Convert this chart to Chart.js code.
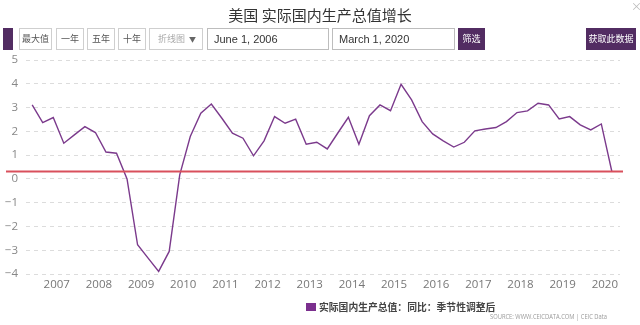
<!DOCTYPE html>
<html>
<head>
<meta charset="utf-8">
<script src="https://cdn.jsdelivr.net/npm/chart.js@4.4.1/dist/chart.umd.min.js"></script>
<style>
  html, body { margin:0; padding:0; background:#fff; }
  body { width:640px; height:325px; position:relative; overflow:hidden; font-family:"Noto Sans CJK SC","Noto Sans",sans-serif; }
  #wrap { position:absolute; left:0; top:0; width:640px; height:325px; }
  .abs { position:absolute; box-sizing:border-box; }
  .btn { border:1px solid #cfcfcf; background:#fff; color:#555; font-size:9px; text-align:center; line-height:20px; top:28px; height:22px; }
  .pbtn { background:#522c62; color:#fff; border:none; font-size:9px; text-align:center; line-height:22px; top:28px; height:22px; }
  .inp { border:1px solid #bdbdbd; color:#333; font-family:"Liberation Sans",Arial,sans-serif; font-size:11px; line-height:20px; padding-left:6px; top:28px; height:22px; }
  #title { left:0; width:640px; top:4px; text-align:center; font-size:15px; color:#333; }
  #legend { left:306px; top:300px; font-size:9.8px; color:#444; font-weight:bold; white-space:nowrap; }
  #legend span.sw { display:inline-block; width:10px; height:8px; background:#7b2f8e; margin-right:3px; }
  #source { left:490px; top:312px; font-size:6.5px; color:#9a9a9a; font-family:"Open Sans",sans-serif; white-space:nowrap; transform-origin:0 0; transform:scaleX(0.89); }
</style>
</head>
<body>
<div id="wrap"><canvas id="c" width="640" height="325"></canvas></div>
<div class="abs" id="title">美国 实际国内生产总值增长</div>
<div class="abs" style="left:631px;top:-2px;font-size:11px;color:#bbb;">×</div>
<div class="abs pbtn" style="left:3px;width:10px;"></div>
<div class="abs btn" style="left:19px;width:33px;">最大值</div>
<div class="abs btn" style="left:56px;width:28px;">一年</div>
<div class="abs btn" style="left:87px;width:28px;">五年</div>
<div class="abs btn" style="left:118px;width:28px;">十年</div>
<div class="abs btn" style="left:149px;width:54px;text-align:left;padding-left:8px;color:#aaa;">折线图<span style="position:absolute;right:6px;color:#666;font-size:7px;">▼</span></div>
<div class="abs inp" style="left:207px;width:122px;">June 1, 2006</div>
<div class="abs inp" style="left:332px;width:123px;">March 1, 2020</div>
<div class="abs pbtn" style="left:458px;width:27px;">筛选</div>
<div class="abs pbtn" style="left:586px;width:50px;">获取此数据</div>
<div class="abs" id="legend"><span class="sw"></span>实际国内生产总值：同比：季节性调整后</div>
<div class="abs" id="source">SOURCE: WWW.CEICDATA.COM | CEIC Data</div>

<script>
const seriesName = "实际国内生产总值：同比：季节性调整后";
const categories = [
  "2006-06","2006-09","2006-12",
  "2007-03","2007-06","2007-09","2007-12",
  "2008-03","2008-06","2008-09","2008-12",
  "2009-03","2009-06","2009-09","2009-12",
  "2010-03","2010-06","2010-09","2010-12",
  "2011-03","2011-06","2011-09","2011-12",
  "2012-03","2012-06","2012-09","2012-12",
  "2013-03","2013-06","2013-09","2013-12",
  "2014-03","2014-06","2014-09","2014-12",
  "2015-03","2015-06","2015-09","2015-12",
  "2016-03","2016-06","2016-09","2016-12",
  "2017-03","2017-06","2017-09","2017-12",
  "2018-03","2018-06","2018-09","2018-12",
  "2019-03","2019-06","2019-09","2019-12",
  "2020-03"
];
const gdpYoY = [
  3.11, 2.37, 2.58,
  1.50, 1.85, 2.20, 1.95,
  1.13, 1.08, 0.00, -2.77,
  -3.33, -3.89, -3.05, 0.17,
  1.78, 2.76, 3.15, 2.55,
  1.92, 1.71, 0.97, 1.60,
  2.62, 2.34, 2.51, 1.46,
  1.54, 1.26, 1.93, 2.59,
  1.46, 2.66, 3.11, 2.87,
  3.98, 3.32, 2.41, 1.89,
  1.60, 1.34, 1.54, 2.02,
  2.10, 2.16, 2.41, 2.79,
  2.86, 3.18, 3.11, 2.52,
  2.62, 2.27, 2.06, 2.31,
  0.31
];
const yearTicks = [2007,2008,2009,2010,2011,2012,2013,2014,2015,2016,2017,2018,2019,2020];
const yTicks = [-4,-3,-2,-1,0,1,2,3,4,5];
const latestValue = gdpYoY[gdpYoY.length - 1];

function toYear(s) {
  const [y, m] = s.split("-").map(Number);
  return y + (m - 1) / 12;
}
const points = categories.map((c, i) => ({ x: toYear(c), y: gdpYoY[i] }));

const refLine = {
  id: 'refLine',
  afterDatasetsDraw(chart) {
    const y = chart.scales.y.getPixelForValue(latestValue);
    const ctx = chart.ctx;
    ctx.save();
    ctx.strokeStyle = '#d9505c';
    ctx.lineWidth = 2;
    ctx.beginPath();
    ctx.moveTo(6, y);
    ctx.lineTo(623, y);
    ctx.stroke();
    ctx.restore();
  }
};

new Chart(document.getElementById('c'), {
  type: 'line',
  data: {
    datasets: [{
      label: seriesName,
      data: points,
      borderColor: '#7b3a8c',
      backgroundColor: '#7b2f8e',
      borderWidth: 1.4,
      pointRadius: 0,
      tension: 0,
      fill: false
    }]
  },
  options: {
    responsive: false,
    animation: false,
    layout: { padding: { top: 60, right: 20, bottom: 31, left: 0 } },
    plugins: { legend: { display: false }, tooltip: { enabled: false } },
    scales: {
      x: {
        type: 'linear',
        min: 2006.27,
        max: 2020.36,
        afterBuildTicks(scale) { scale.ticks = yearTicks.map(v => ({ value: v })); },
        afterFit(scale) { scale.height = 20; },
        grid: { display: false, drawTicks: false },
        border: { display: false },
        ticks: {
          padding: 4,
          color: '#777',
          font: { family: 'Open Sans', size: 11.5 },
          callback: v => String(v),
          maxRotation: 0,
          autoSkip: false
        }
      },
      y: {
        min: -4,
        max: 5,
        afterBuildTicks(scale) { scale.ticks = yTicks.map(v => ({ value: v })); },
        afterFit(scale) { scale.width = 26; },
        grid: { color: '#dcdcdc', drawTicks: false, lineWidth: 1 },
        border: { display: false, dash: [4, 4] },
        ticks: {
          padding: 8,
          color: '#888',
          font: { family: 'Open Sans', size: 11.5 },
          callback: v => (v < 0 ? '−' + Math.abs(v) : String(v))
        }
      }
    }
  },
  plugins: [refLine]
});
</script>
</body>
</html>
